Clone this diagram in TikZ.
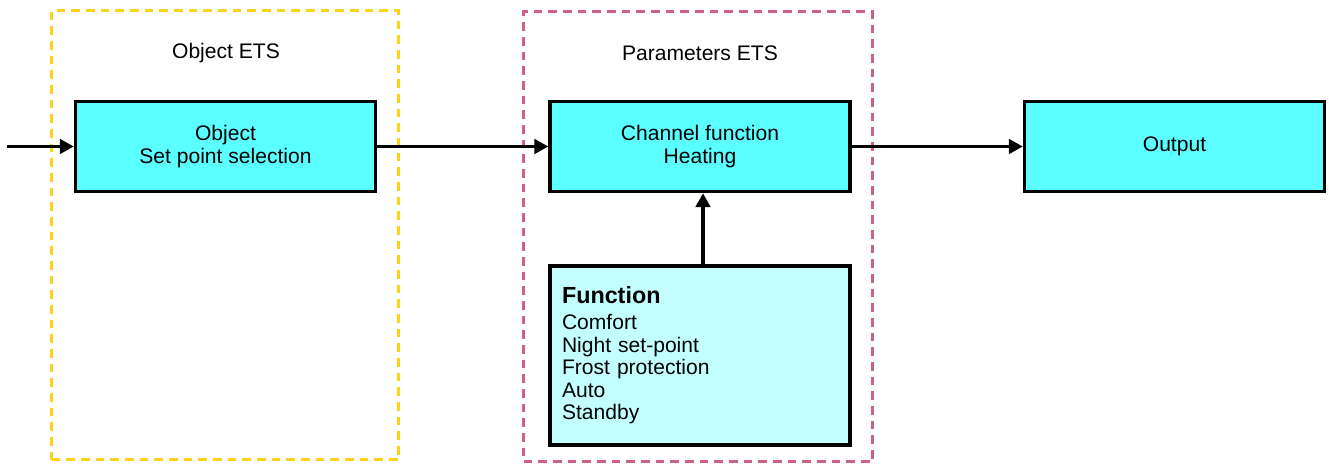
\documentclass[tikz,border=0pt]{standalone}
\usepackage{fontspec}
\setmainfont{Liberation Sans}
\usetikzlibrary{arrows.meta}
\definecolor{boxcyan}{HTML}{5CFFFF}
\definecolor{boxlight}{HTML}{C4FFFF}
\definecolor{grpyellow}{HTML}{FFD21A}
\definecolor{grppink}{HTML}{D0608A}
\tikzset{
  blockbox/.style={draw=black, line width=2.6pt, fill=boxcyan, minimum width=225pt, minimum height=67.5pt, align=center, inner sep=0pt, font=\fontsize{15.8}{17.3}\selectfont},
  listbox/.style={draw=black, line width=2.6pt, fill=boxlight, minimum width=225pt, minimum height=134.25pt, text width=207pt, inner sep=9pt, align=left, font=\fontsize{15.8}{16.9}\selectfont},
  groupbox/.style={line width=2.4pt, dash pattern=on 6.5pt off 4.5pt, inner sep=0pt},
  grouplabel/.style={font=\fontsize{15.8}{17.3}\selectfont, inner sep=0pt},
  arr/.style={line width=2.3pt, -{Triangle[length=10.5pt,width=11pt]}},
}
\begin{document}
\begin{tikzpicture}[x=0.75pt,y=-0.75pt]
\useasboundingbox (0,0) rectangle (1329,465);
% group containers
\node[groupbox, draw=grpyellow, minimum width=260.25pt, minimum height=336.75pt] (grpobj) at (225,235) {};
\node[groupbox, draw=grppink, minimum width=261.75pt, minimum height=337.5pt] (grppar) at (698,236.5) {};
\node[grouplabel] (lblobj) at (226,53) {Object ETS};
\node[grouplabel] (lblpar) at (700,53) {Parameters ETS};
% blocks
\node[blockbox] (obj) at (225.5,146.5) {Object\\Set point selection};
\node[blockbox] (ch) at (700,146.5) {Channel function\\Heating};
\node[blockbox] (out) at (1174.5,146.5) {Output};
\node[listbox] (fn) at (700,355.5) {{\fontsize{17.5}{19}\selectfont\bfseries Function}\\[2.5pt]Comfort\\Night set-point\\Frost protection\\Auto\\Standby};
% connectors
\coordinate (in) at (7,146.5);
\draw[arr] (in) -- (obj.west);
\draw[arr] (obj.east) -- (ch.west);
\draw[arr] (ch.east) -- (out.west);
\draw[arr] ([xshift=2.25pt]fn.north) -- ([xshift=2.25pt]ch.south);
\end{tikzpicture}
\end{document}
